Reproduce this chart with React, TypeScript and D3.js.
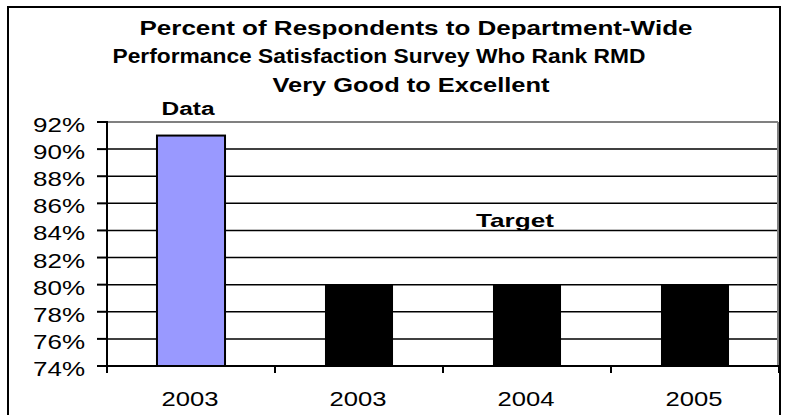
import React from "react";
import * as d3 from "d3";

const titleLines = [
  "Percent of Respondents to Department-Wide",
  "Performance Satisfaction Survey Who Rank RMD",
  "Very Good to Excellent",
];
const categories = ["2003", "2003", "2004", "2005"];
const values = [0.91, 0.8, 0.8, 0.8];
const seriesOf = ["Data", "Target", "Target", "Target"];
const yTicks = [0.74, 0.76, 0.78, 0.8, 0.82, 0.84, 0.86, 0.88, 0.9, 0.92];

const W = 786;
const H = 415;
const FONT = "'Liberation Sans', Arial, sans-serif";

export default function App() {
  const plotL = 107, plotR = 779, plotT = 122, plotB = 366;
  const y = d3.scaleLinear().domain([0.74, 0.92]).range([plotB, plotT]);
  const x = d3
    .scaleBand<number>()
    .domain(categories.map((_, i) => i))
    .range([plotL, plotR])
    .padding(0);
  const barW = x.bandwidth() * 0.405;
  const fmt = d3.format(".0%");

  const titleSpecs = [
    { cx: 416, by: 35, len: 553 },
    { cx: 379, by: 63, len: 533 },
    { cx: 411, by: 92, len: 277 },
  ];
  const tickEdges = d3.range(categories.length + 1).map((i) => plotL + i * x.step());

  return (
    <svg
      width={W}
      height={H}
      style={{ position: "absolute", left: 0, top: 0, background: "#fff" }}
      fontFamily={FONT}
    >
      <rect x={0} y={0} width={W} height={H} fill="#fff" />
      {/* outer frame */}
      <rect x={8} y={7} width={772} height={420} fill="none" stroke="#000" strokeWidth={2} />

      {/* title */}
      {titleLines.map((t, i) => (
        <text
          key={i}
          x={titleSpecs[i].cx}
          y={titleSpecs[i].by}
          textAnchor="middle"
          fontWeight="bold"
          fontSize={21}
          textLength={titleSpecs[i].len}
          lengthAdjust="spacingAndGlyphs"
        >
          {t}
        </text>
      ))}

      {/* gridlines */}
      {yTicks.slice(1, -1).map((v) => (
        <line key={v} x1={plotL} x2={plotR - 1} y1={y(v)} y2={y(v)} stroke="#000" strokeWidth={1.5} />
      ))}
      {/* plot area top/right border */}
      <line x1={plotL} x2={plotR - 1} y1={plotT} y2={plotT} stroke="#808080" strokeWidth={2} />
      <line x1={plotR - 1} x2={plotR - 1} y1={plotT} y2={plotB} stroke="#808080" strokeWidth={2} />

      {/* bars */}
      {values.map((v, i) => {
        const cx = (x(i) as number) + x.bandwidth() / 2;
        const isData = seriesOf[i] === "Data";
        return (
          <rect
            key={i}
            x={cx - barW / 2}
            y={y(v)}
            width={barW}
            height={plotB - y(v)}
            fill={isData ? "#9999FF" : "#000"}
            stroke="#000"
            strokeWidth={isData ? 2 : 0}
          />
        );
      })}

      {/* y axis */}
      <line x1={plotL} x2={plotL} y1={plotT - 1} y2={plotB + 1} stroke="#000" strokeWidth={2} />
      {yTicks.map((v) => (
        <g key={v}>
          <line x1={97} x2={plotL} y1={y(v)} y2={y(v)} stroke="#000" strokeWidth={2} />
          <text
            x={85}
            y={y(v) + 10}
            textAnchor="end"
            fontSize={20}
            textLength={52}
            lengthAdjust="spacingAndGlyphs"
          >
            {fmt(v)}
          </text>
        </g>
      ))}

      {/* x axis */}
      <line x1={plotL} x2={plotR} y1={plotB} y2={plotB} stroke="#000" strokeWidth={2} />
      {tickEdges.map((tx, i) => (
        <line key={i} x1={tx} x2={tx} y1={plotB} y2={plotB + 7} stroke="#000" strokeWidth={2} />
      ))}
      {categories.map((c, i) => (
        <text
          key={i}
          x={(x(i) as number) + x.bandwidth() / 2 - 1}
          y={406}
          textAnchor="middle"
          fontSize={21}
          textLength={57}
          lengthAdjust="spacingAndGlyphs"
        >
          {c}
        </text>
      ))}

      {/* series labels */}
      <text x={188} y={115} textAnchor="middle" fontWeight="bold" fontSize={18} textLength={53} lengthAdjust="spacingAndGlyphs">
        Data
      </text>
      <text x={515} y={227} textAnchor="middle" fontWeight="bold" fontSize={19} textLength={78} lengthAdjust="spacingAndGlyphs">
        Target
      </text>
    </svg>
  );
}
